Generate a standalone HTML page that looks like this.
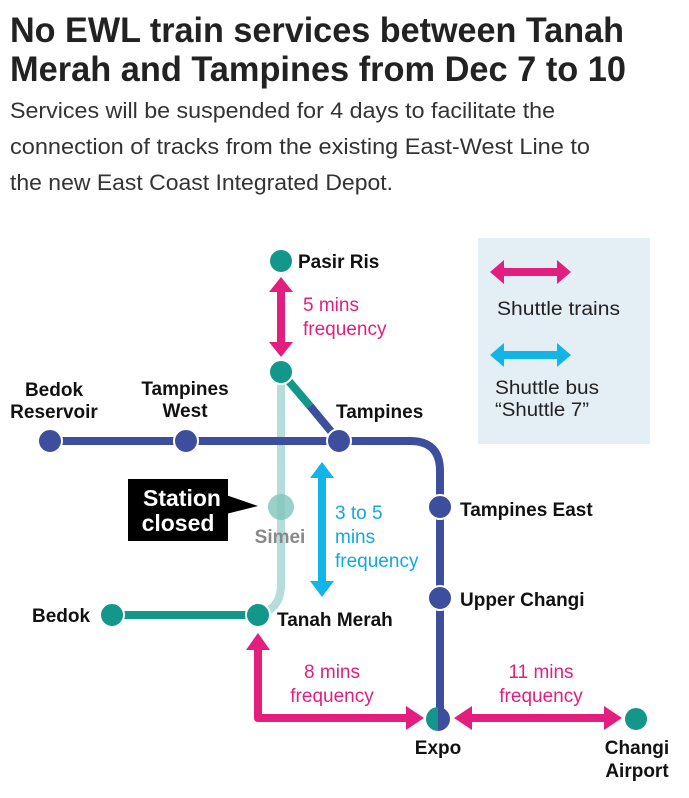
<!DOCTYPE html>
<html><head><meta charset="utf-8"><style>
html,body{margin:0;padding:0;background:#fff;}
svg{display:block;}
text{font-family:"Liberation Sans Narrow","Liberation Sans",sans-serif;}
.t{font-weight:bold;font-size:35px;fill:#222;}
.s{font-size:22px;fill:#333;}
.l{font-weight:bold;font-size:19px;fill:#111;}
.p{font-size:19px;fill:#e21f7f;}
.c{font-size:19px;fill:#12a9dc;}
</style></head><body>
<svg width="689" height="798" viewBox="0 0 689 798" xmlns="http://www.w3.org/2000/svg">
<text class="t" x="10" y="42" textLength="614" lengthAdjust="spacingAndGlyphs">No EWL train services between Tanah</text>
<text class="t" x="10" y="81" textLength="616" lengthAdjust="spacingAndGlyphs">Merah and Tampines from Dec 7 to 10</text>
<text class="s" x="10" y="118" textLength="545" lengthAdjust="spacingAndGlyphs">Services will be suspended for 4 days to facilitate the</text>
<text class="s" x="10" y="154" textLength="580" lengthAdjust="spacingAndGlyphs">connection of tracks from the existing East-West Line to</text>
<text class="s" x="10" y="190" textLength="383" lengthAdjust="spacingAndGlyphs">the new East Coast Integrated Depot.</text>

<!-- legend -->
<rect x="478" y="238" width="172" height="206" fill="#e4eef5"/>
<g fill="#e21f7f"><rect x="500" y="268" width="60" height="8"/><polygon points="490,272 504,260 504,284"/><polygon points="571,272 557,260 557,284"/></g>
<text class="p" x="497" y="315" style="fill:#222" textLength="123" lengthAdjust="spacingAndGlyphs">Shuttle trains</text>
<g fill="#12b5e5"><rect x="500" y="351" width="60" height="8"/><polygon points="490,355 504,343 504,367"/><polygon points="571,355 557,343 557,367"/></g>
<text x="495" y="394" style="font-size:19px;fill:#222" textLength="104" lengthAdjust="spacingAndGlyphs">Shuttle bus</text>
<text x="495" y="416" style="font-size:19px;fill:#222" textLength="94" lengthAdjust="spacingAndGlyphs">“Shuttle 7”</text>

<!-- faded line -->
<path d="M281 372 V585 Q281 608 260 614" stroke="#b5dedb" stroke-width="8" fill="none"/>
<!-- blue line -->
<path d="M50 441 H410 Q440 441 440 471 V719" stroke="#3d4f9c" stroke-width="8" fill="none"/>
<!-- diagonal -->
<line x1="281" y1="372" x2="310" y2="406" stroke="#12978a" stroke-width="8"/>
<line x1="310" y1="406" x2="339" y2="441" stroke="#3d4f9c" stroke-width="8"/>
<!-- green line -->
<line x1="112" y1="615" x2="258" y2="615" stroke="#12978a" stroke-width="8"/>

<!-- stations -->
<g stroke="#fff" stroke-width="2">
<circle cx="281" cy="261" r="12" fill="#12978a"/>
<circle cx="281" cy="372" r="12" fill="#12978a"/>
<circle cx="50" cy="441" r="12" fill="#3d4f9c"/>
<circle cx="186" cy="441" r="12" fill="#3d4f9c"/>
<circle cx="339" cy="441" r="12" fill="#3d4f9c"/>
<circle cx="440" cy="507" r="12" fill="#3d4f9c"/>
<circle cx="440" cy="598" r="12" fill="#3d4f9c"/>
<circle cx="112" cy="615" r="12" fill="#12978a"/>
<circle cx="258" cy="615" r="12" fill="#12978a"/>
<circle cx="636" cy="719" r="12" fill="#12978a"/>
</g>
<circle cx="281" cy="507" r="13" fill="#7fc4bd" opacity="0.8"/>
<path d="M438 707 A12 12 0 0 0 438 731 Z" fill="#12978a"/>
<path d="M438 707 A12 12 0 0 1 438 731 Z" fill="#3d4f9c"/>

<!-- pink arrows -->
<g fill="#e21f7f">
<rect x="277" y="288" width="8" height="58"/><polygon points="281,277 269,292 293,292"/><polygon points="281,357 269,342 293,342"/>
<path d="M254 648 V718 Q254 722 258 722 H408 V714 H262 V648 Z"/>
<polygon points="258,633 246,650 270,650"/>
<polygon points="424,718 406,706 406,730"/>
<rect x="470" y="714" width="136" height="8"/>
<polygon points="454,718 472,706 472,730"/>
<polygon points="622,718 604,706 604,730"/>
</g>
<!-- cyan arrow -->
<g fill="#12b5e5">
<rect x="318" y="476" width="8" height="108"/><polygon points="322,462 310,478 334,478"/><polygon points="322,597 310,581 334,581"/>
</g>

<!-- labels -->
<text class="l" x="298" y="268">Pasir Ris</text>
<text class="p" x="303" y="311">5 mins</text>
<text class="p" x="303" y="335">frequency</text>
<text class="l" x="54" y="396" text-anchor="middle">Bedok</text>
<text class="l" x="54" y="418" text-anchor="middle">Reservoir</text>
<text class="l" x="185" y="395" text-anchor="middle">Tampines</text>
<text class="l" x="185" y="417" text-anchor="middle">West</text>
<text class="l" x="336" y="418">Tampines</text>
<text class="l" x="460" y="516">Tampines East</text>
<text class="l" x="460" y="606">Upper Changi</text>
<text class="l" x="32" y="622">Bedok</text>
<text class="l" x="277" y="626">Tanah Merah</text>
<text class="l" x="438" y="754" text-anchor="middle">Expo</text>
<text class="l" x="637" y="754" text-anchor="middle">Changi</text>
<text class="l" x="637" y="777" text-anchor="middle">Airport</text>
<text x="280" y="543" text-anchor="middle" style="font-weight:bold;font-size:19px;fill:#888">Simei</text>
<text class="c" x="335" y="519">3 to 5</text>
<text class="c" x="335" y="543">mins</text>
<text class="c" x="335" y="567">frequency</text>
<text class="p" x="332" y="678" text-anchor="middle">8 mins</text>
<text class="p" x="332" y="702" text-anchor="middle">frequency</text>
<text class="p" x="541" y="678" text-anchor="middle">11 mins</text>
<text class="p" x="541" y="702" text-anchor="middle">frequency</text>

<!-- station closed callout -->
<rect x="128" y="479" width="100" height="62" fill="#000"/>
<polygon points="226,495 258,506 226,514" fill="#000"/>
<text x="182" y="506" text-anchor="middle" style="font-weight:bold;font-size:23px;fill:#fff">Station</text>
<text x="178" y="531" text-anchor="middle" style="font-weight:bold;font-size:23px;fill:#fff">closed</text>
</svg>
</body></html>
